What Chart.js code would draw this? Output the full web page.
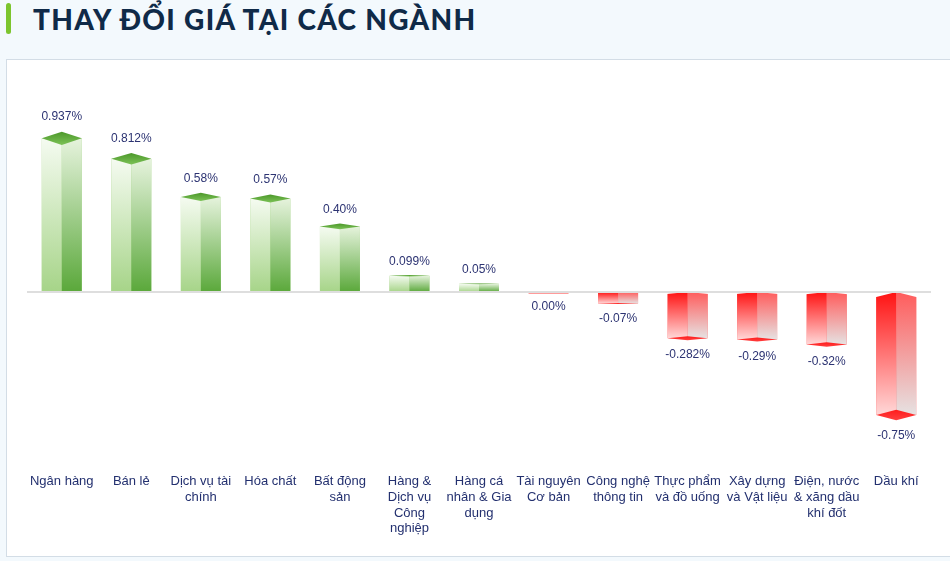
<!DOCTYPE html>
<html>
<head>
<meta charset="utf-8">
<script src="https://cdn.jsdelivr.net/npm/chart.js@4"></script>
<style>
  body { margin: 0; background: #f3f9fd; width: 950px; height: 561px; overflow: hidden; position: relative; }
  .mark { position: absolute; left: 6px; top: 3px; width: 5px; height: 31px; border-radius: 3px; background: #7cc52e; }
  .title { position: absolute; left: 33px; top: 1px; font-family: Lato, sans-serif; font-weight: 900; font-size: 28px; line-height: 36px; color: #0f2a48; letter-spacing: 1.3px; white-space: nowrap; }
  .box { position: absolute; left: 6px; top: 59px; width: 950px; height: 496px; background: #fff; border: 1px solid #d3dde6; }
  .box canvas { position: absolute; left: 0; top: 0; }
</style>
</head>
<body>
<div class="mark"></div>
<div class="title">THAY ĐỔI GIÁ TẠI CÁC NGÀNH</div>
<div class="box"><canvas id="sectorChart" width="943" height="496"></canvas></div>
<script>
// Thay doi gia theo nganh (%)
const sectors = [
    'Ngân hàng',
    'Bán lẻ',
    ['Dịch vụ tài', 'chính'],
    'Hóa chất',
    ['Bất động', 'sản'],
    ['Hàng &', 'Dịch vụ', 'Công', 'nghiệp'],
    ['Hàng cá', 'nhân & Gia', 'dụng'],
    ['Tài nguyên', 'Cơ bản'],
    ['Công nghệ', 'thông tin'],
    ['Thực phẩm', 'và đồ uống'],
    ['Xây dựng', 'và Vật liệu'],
    ['Điện, nước', '& xăng dầu', 'khí đốt'],
    'Dầu khí'
];
const changes = [0.937, 0.812, 0.58, 0.57, 0.40, 0.099, 0.05, 0.00, -0.07, -0.282, -0.29, -0.32, -0.75];

function pctText(v) {
    const s = String(v);
    const dec = s.includes('.') ? s.split('.')[1].length : 0;
    return v.toFixed(Math.max(2, dec)) + '%';
}

function grad(c, y0, y1, a, b) {
    const g = c.createLinearGradient(0, y0, 0, y1);
    g.addColorStop(0, a);
    g.addColorStop(1, b);
    return g;
}

// draws the 3D faces, caps, zero line and value labels on top of the bars
const bars3d = {
    id: 'bars3d',
    afterDatasetsDraw(chart) {
        const c = chart.ctx;
        const yScale = chart.scales.y;
        const zero = yScale.getPixelForValue(0);
        const area = chart.chartArea;
        const meta = chart.getDatasetMeta(0);
        c.save();
        meta.data.forEach((bar, i) => {
            const v = changes[i];
            const p = bar.getProps(['x', 'y', 'base', 'width'], true);
            const left = p.x - p.width / 2, right = p.x + p.width / 2, cx = p.x;
            const h = Math.abs(p.y - zero);
            const ch = h * 0.043;
            if (v > 0) {
                c.fillStyle = grad(c, p.y, zero, '#f5fbf1', '#a6d488');
                c.fillRect(left, p.y, cx - left, zero - p.y);
                c.fillStyle = grad(c, p.y, zero, '#e6f3dd', '#5aa83a');
                c.fillRect(cx, p.y, right - cx, zero - p.y);
                c.fillStyle = grad(c, p.y - ch, p.y + ch, '#4c982a', '#7cc257');
                c.beginPath();
                c.moveTo(cx, p.y - ch); c.lineTo(right, p.y); c.lineTo(cx, p.y + ch); c.lineTo(left, p.y);
                c.closePath(); c.fill();
            } else if (v < 0) {
                c.fillStyle = grad(c, zero, p.y, '#ff1212', '#ffd8d8');
                c.fillRect(left, zero, cx - left, p.y - zero);
                c.fillStyle = grad(c, zero, p.y, '#ff5c5c', '#e6e2e2');
                c.fillRect(cx, zero, right - cx, p.y - zero);
                // slanted top edge
                c.fillStyle = '#fff';
                c.beginPath();
                c.moveTo(left - 1, zero); c.lineTo(cx, zero); c.lineTo(left - 1, zero + ch);
                c.closePath(); c.fill();
                c.beginPath();
                c.moveTo(right + 1, zero); c.lineTo(cx, zero); c.lineTo(right + 1, zero + ch);
                c.closePath(); c.fill();
                c.fillStyle = grad(c, p.y - ch, p.y + ch, '#ff1c1c', '#ff4040');
                c.beginPath();
                c.moveTo(cx, p.y - ch); c.lineTo(right, p.y); c.lineTo(cx, p.y + ch); c.lineTo(left, p.y);
                c.closePath(); c.fill();
            } else {
                c.fillStyle = '#ff9a9a';
                c.fillRect(left, zero, right - left, 2);
            }
        });
        // zero line
        c.strokeStyle = '#dedede';
        c.lineWidth = 2;
        c.beginPath();
        c.moveTo(area.left, zero);
        c.lineTo(area.right, zero);
        c.stroke();
        // value labels
        c.fillStyle = '#2c3372';
        c.font = '12px "Liberation Sans", Arial, sans-serif';
        c.textAlign = 'center';
        c.textBaseline = 'middle';
        meta.data.forEach((bar, i) => {
            const v = changes[i];
            const p = bar.getProps(['x', 'y'], true);
            const h = Math.abs(p.y - zero);
            const off = 13.5 + h * 0.052;
            const y = v > 0 ? p.y - off : p.y + off + 1;
            c.fillText(pctText(v), p.x, y);
        });
        c.restore();
    }
};

const sectorChart = new Chart(document.getElementById('sectorChart'), {
    type: 'bar',
    data: {
        labels: sectors,
        datasets: [{
            data: changes,
            backgroundColor: changes.map(v => v >= 0 ? '#a6d488' : '#ff5c5c'),
            borderWidth: 0,
            barPercentage: 0.575,
            categoryPercentage: 1
        }]
    },
    options: {
        responsive: false,
        animation: false,
        layout: { padding: { left: 20, right: 19, top: 68, bottom: 0 } },
        plugins: {
            legend: { display: false },
            tooltip: { enabled: false }
        },
        scales: {
            x: {
                grid: { display: false },
                border: { display: false },
                afterFit: (scale) => { scale.height = 100; },
                ticks: {
                    autoSkip: false,
                    maxRotation: 0,
                    padding: 10,
                    color: '#23306f',
                    font: { family: '"Liberation Sans", Arial, sans-serif', size: 13, lineHeight: 1.2 }
                }
            },
            y: {
                display: false,
                min: -1,
                max: 1
            }
        }
    },
    plugins: [bars3d]
});
</script>
</body>
</html>
